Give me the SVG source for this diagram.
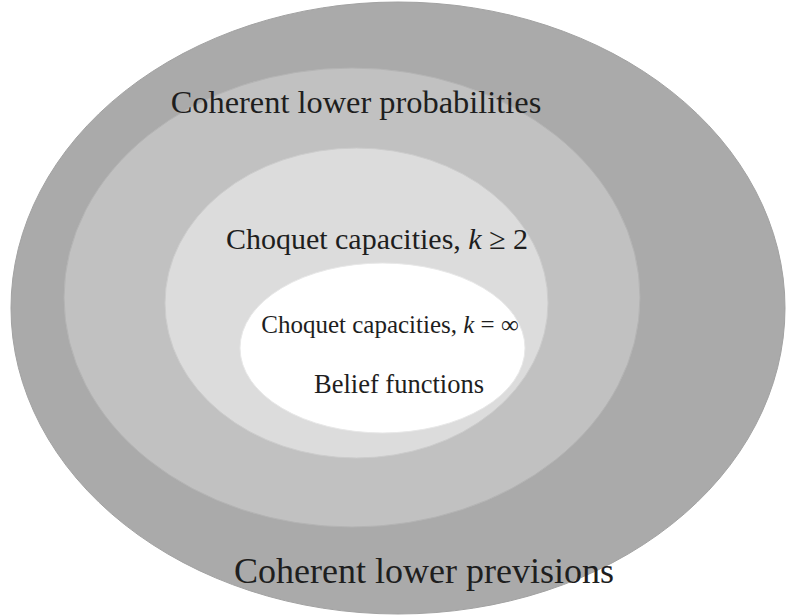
<svg xmlns="http://www.w3.org/2000/svg" width="786" height="616" viewBox="0 0 786 616">
<style>
text{font-family:"Liberation Serif","Times New Roman",serif;fill:#1e1e1e;text-anchor:middle}
.e{stroke-width:1}
</style>
<rect width="786" height="616" fill="#ffffff"/>
<g id="coherent-lower-previsions">
<ellipse class="e" cx="398" cy="308" rx="387" ry="306" fill="#aaaaaa" stroke="#a2a2a2"/>
<text x="424" y="583" font-size="36">Coherent lower previsions</text>
</g>
<g id="coherent-lower-probabilities">
<ellipse class="e" cx="352" cy="297.5" rx="288" ry="229.5" fill="#c1c1c1" stroke="#b4b4b4"/>
<text x="356" y="113" font-size="32.4">Coherent lower probabilities</text>
</g>
<g id="choquet-k2">
<ellipse class="e" cx="356.5" cy="303" rx="191.5" ry="155" fill="#dcdcdc" stroke="#cccccc"/>
<text x="377" y="249" font-size="30">Choquet capacities, <tspan font-style="italic">k</tspan> ≥ 2</text>
</g>
<g id="belief-functions">
<ellipse class="e" cx="382.5" cy="348" rx="142.5" ry="85" fill="#ffffff" stroke="#e8e8e8"/>
<text x="390" y="333" font-size="25">Choquet capacities, <tspan font-style="italic">k</tspan> = ∞</text>
<text x="399" y="393" font-size="26.5">Belief functions</text>
</g>
<g id="connectors"/>
</svg>
